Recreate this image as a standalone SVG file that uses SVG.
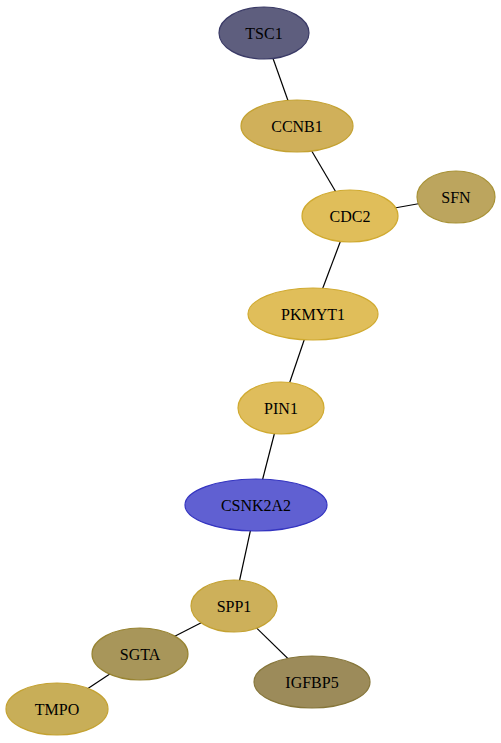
<svg xmlns="http://www.w3.org/2000/svg" width="501" height="743" viewBox="0 0 501 743">
<style>
.e{stroke:#000;stroke-width:1.2;fill:none}
.n ellipse{stroke-width:1.2}
.n text{font-family:"Liberation Serif","Times New Roman",serif;font-size:16px;text-anchor:middle;dominant-baseline:central;fill:#000}
</style>
<rect width="501" height="743" fill="#fff"/>
<g id="connectors">
<line class="e" x1="264" y1="33" x2="297" y2="126"/>
<line class="e" x1="297" y1="126" x2="350" y2="216"/>
<line class="e" x1="350" y1="216" x2="456" y2="197"/>
<line class="e" x1="350" y1="216" x2="313" y2="314"/>
<line class="e" x1="313" y1="314" x2="281" y2="408"/>
<line class="e" x1="281" y1="408" x2="256" y2="505"/>
<line class="e" x1="256" y1="505" x2="234" y2="606"/>
<line class="e" x1="234" y1="606" x2="140" y2="654"/>
<line class="e" x1="234" y1="606" x2="312" y2="682"/>
<line class="e" x1="140" y1="654" x2="57" y2="709"/>
</g>
<g id="TSC1" class="n"><ellipse cx="264" cy="33" rx="45" ry="26" fill="#5e5e7e" stroke="#3a3a66"/><text x="264" y="33">TSC1</text></g>
<g id="CCNB1" class="n"><ellipse cx="297" cy="126" rx="56" ry="26" fill="#d0b05a" stroke="#c4a232"/><text x="297" y="126">CCNB1</text></g>
<g id="CDC2" class="n"><ellipse cx="350" cy="216" rx="48" ry="26" fill="#e0be5a" stroke="#d0aa30"/><text x="350" y="216">CDC2</text></g>
<g id="SFN" class="n"><ellipse cx="456" cy="197" rx="39" ry="26" fill="#bca55e" stroke="#a89236"/><text x="456" y="197">SFN</text></g>
<g id="PKMYT1" class="n"><ellipse cx="313" cy="314" rx="65" ry="26" fill="#e0be5a" stroke="#d0aa30"/><text x="313" y="314">PKMYT1</text></g>
<g id="PIN1" class="n"><ellipse cx="281" cy="408" rx="43" ry="26" fill="#dfbd5c" stroke="#d0aa30"/><text x="281" y="408">PIN1</text></g>
<g id="CSNK2A2" class="n"><ellipse cx="256" cy="505" rx="71" ry="26" fill="#6060d2" stroke="#3434c0"/><text x="256" y="505">CSNK2A2</text></g>
<g id="SPP1" class="n"><ellipse cx="234" cy="606" rx="43" ry="26" fill="#cdb05a" stroke="#c4a232"/><text x="234" y="606">SPP1</text></g>
<g id="SGTA" class="n"><ellipse cx="140" cy="654" rx="48" ry="26" fill="#a8965a" stroke="#988432"/><text x="140" y="654">SGTA</text></g>
<g id="TMPO" class="n"><ellipse cx="57" cy="709" rx="51" ry="26" fill="#c8ae58" stroke="#c4a232"/><text x="57" y="709">TMPO</text></g>
<g id="IGFBP5" class="n"><ellipse cx="312" cy="682" rx="58" ry="26" fill="#9c8b5a" stroke="#86763a"/><text x="312" y="682">IGFBP5</text></g>
</svg>
